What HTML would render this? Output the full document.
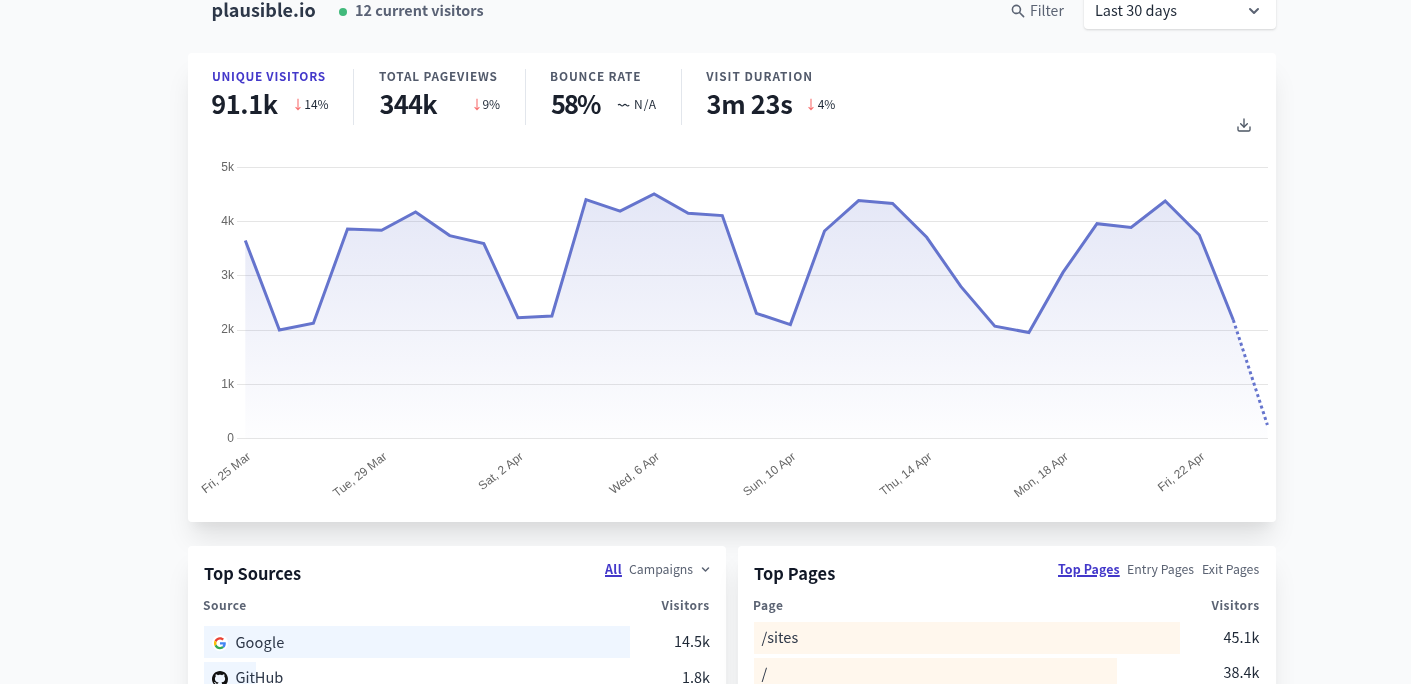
<!DOCTYPE html>
<html><head><meta charset="utf-8"><title>plausible.io · Plausible Analytics</title>
<style>
*{box-sizing:border-box;margin:0;padding:0}
html,body{width:1411px;height:684px;overflow:hidden}
body{background:#f9fafb;position:relative;font-family:"Liberation Sans","Noto Sans CJK SC",sans-serif;color:#1f2937}
.t{position:absolute;white-space:nowrap;font-family:"Noto Sans CJK SC","Liberation Sans",sans-serif}
.b{font-weight:700}
.card{position:absolute;background:#fff;border-radius:4px}
#main{left:188px;top:53px;width:1088px;height:469px;box-shadow:0 20px 25px -5px rgba(0,0,0,.1),0 10px 10px -5px rgba(0,0,0,.04)}
#src{left:188px;top:546px;width:538px;height:400px;box-shadow:0 20px 25px -5px rgba(0,0,0,.1),0 10px 10px -5px rgba(0,0,0,.04)}
#pages{left:738px;top:546px;width:538px;height:400px;box-shadow:0 20px 25px -5px rgba(0,0,0,.1),0 10px 10px -5px rgba(0,0,0,.04)}
.lbl{font-size:11.8px;line-height:11.8px;letter-spacing:.6px;font-weight:700;color:#525a6b}
.num{font-size:25.4px;line-height:25.4px;letter-spacing:-.4px;font-weight:700;color:#1a202c}
.chg{font-size:12px;line-height:12px;color:#1f2937}
.dn{color:#f87171}
.sep{position:absolute;width:1px;background:#e2e6ec;top:69px;height:56px}
.bar{position:absolute;height:32px}
.blue{background:#eff6ff}
.org{background:#fff7ed}
.item{font-size:14.6px;line-height:14.6px;color:#2d3748}
.val{font-size:14.4px;line-height:14.4px;color:#1f2937}
.hd{font-size:12px;line-height:12px;letter-spacing:.5px;font-weight:700;color:#5b6373}
.ttl{font-size:16.4px;line-height:16.4px;font-weight:700;color:#111827}
.tab{font-size:12.3px;line-height:12.3px;color:#5b6373}
.act{font-size:12.4px;line-height:12.4px;font-weight:700;color:#4338ca;text-decoration:underline;text-underline-offset:.8px;text-decoration-thickness:1.6px}
</style></head>
<body>
<!-- header -->
<div class="t b" style="left:211.6px;top:-0.2px;font-size:18px;line-height:18px;color:#2d3748">plausible.io</div>
<div style="position:absolute;left:339px;top:8px;width:8px;height:8px;border-radius:50%;background:#41b97b"></div>
<div class="t b" style="left:355px;top:2.8px;font-size:14.4px;line-height:14.4px;color:#5a6275">12 current visitors</div>
<svg style="position:absolute;left:1010.1px;top:2.8px" width="16" height="16" viewBox="0 0 20 20"><path fill="#5b6373" fill-rule="evenodd" d="M8 4a4 4 0 100 8 4 4 0 000-8zM2 8a6 6 0 1110.89 3.476l4.817 4.817a1 1 0 01-1.414 1.414l-4.816-4.816A6 6 0 012 8z" clip-rule="evenodd"/></svg>
<div class="t" style="left:1030px;top:3px;font-size:14px;line-height:14px;color:#5b6373">Filter</div>
<div class="card" style="left:1084px;top:-12px;width:192px;height:40.5px;box-shadow:0 1px 3px 0 rgba(0,0,0,.1),0 1px 2px 0 rgba(0,0,0,.06)"></div>
<div class="t" style="left:1095px;top:2.6px;font-size:14.5px;line-height:14.5px;color:#1f2937">Last 30 days</div>
<svg style="position:absolute;left:1244px;top:1px" width="20" height="20" viewBox="0 0 20 20"><path fill="#5b6373" fill-rule="evenodd" d="M5.293 7.293a1 1 0 011.414 0L10 10.586l3.293-3.293a1 1 0 111.414 1.414l-4 4a1 1 0 01-1.414 0l-4-4a1 1 0 010-1.414z" clip-rule="evenodd"/></svg>

<!-- main card -->
<div class="card" id="main"></div>
<div class="t lbl" style="left:212px;top:70.4px;color:#4338ca;letter-spacing:.71px">UNIQUE VISITORS</div>
<div class="t num" style="left:211.2px;top:91px">91.1k</div>
<svg style="position:absolute;left:294.8px;top:98px" width="6" height="13" viewBox="0 0 6 13"><path d="M3 .8V11.6M.6 9.2L3 11.6 5.4 9.2" fill="none" stroke="#f87171" stroke-width="1.1"/></svg>
<div class="t chg" style="left:304.3px;top:98px">14%</div>
<div class="sep" style="left:353px"></div>
<div class="t lbl" style="left:379px;top:70.4px;letter-spacing:.81px">TOTAL PAGEVIEWS</div>
<div class="t num" style="left:379.5px;top:91px;letter-spacing:-.7px">344k</div>
<svg style="position:absolute;left:473.7px;top:98px" width="6" height="13" viewBox="0 0 6 13"><path d="M3 .8V11.6M.6 9.2L3 11.6 5.4 9.2" fill="none" stroke="#f87171" stroke-width="1.1"/></svg>
<div class="t chg" style="left:482.4px;top:98px">9%</div>
<div class="sep" style="left:525px"></div>
<div class="t lbl" style="left:550px;top:70.4px;letter-spacing:.88px">BOUNCE RATE</div>
<div class="t num" style="left:550.9px;top:91px;letter-spacing:-1.9px">58%</div>
<svg style="position:absolute;left:617px;top:102px" width="14" height="6" viewBox="0 0 14 6"><path d="M1 3.2q1.4-1.6 2.8 0t2.8 0 2.8 0 2.8 0" fill="none" stroke="#1f2937" stroke-width="1.1"/></svg>
<div class="t chg" style="left:634px;top:97.8px;letter-spacing:1px">N/A</div>
<div class="sep" style="left:681px"></div>
<div class="t lbl" style="left:706.2px;top:70.4px;letter-spacing:.95px">VISIT DURATION</div>
<div class="t num" style="left:706.5px;top:91px;letter-spacing:-.3px">3m 23s</div>
<svg style="position:absolute;left:808.4px;top:98px" width="6" height="13" viewBox="0 0 6 13"><path d="M3 .8V11.6M.6 9.2L3 11.6 5.4 9.2" fill="none" stroke="#f87171" stroke-width="1.1"/></svg>
<div class="t chg" style="left:817.7px;top:98px">4%</div>
<svg style="position:absolute;left:1236px;top:117px" width="16" height="16" viewBox="0 0 24 24" fill="none" stroke="#4b5563" stroke-width="2" stroke-linecap="round" stroke-linejoin="round"><path d="M21 15v4a2 2 0 0 1-2 2H5a2 2 0 0 1-2-2v-4"/><polyline points="7 10 12 15 17 10"/><line x1="12" y1="15" x2="12" y2="3"/></svg>

<!-- chart -->
<svg id="chart" style="position:absolute;left:0;top:0" width="1411" height="684" viewBox="0 0 1411 684">
<defs>
<linearGradient id="gf" gradientUnits="userSpaceOnUse" x1="0" y1="156" x2="0" y2="456">
<stop offset="0" stop-color="rgb(101,116,205)" stop-opacity="0.2"/>
<stop offset="1" stop-color="rgb(101,116,205)" stop-opacity="0"/>
</linearGradient>
</defs>
<g stroke="rgba(0,0,0,0.1)" stroke-width="1" shape-rendering="crispEdges">
<line x1="237" y1="167.5" x2="1268" y2="167.5"/>
<line x1="237" y1="221.5" x2="1268" y2="221.5"/>
<line x1="237" y1="275.5" x2="1268" y2="275.5"/>
<line x1="237" y1="330.5" x2="1268" y2="330.5"/>
<line x1="237" y1="384.5" x2="1268" y2="384.5"/>
<line x1="237" y1="438.5" x2="1268" y2="438.5"/>
</g>
<g font-family="Liberation Sans, Arial, sans-serif" font-size="12" fill="#666" text-anchor="end" dominant-baseline="middle">
<text x="234" y="167.5">5k</text>
<text x="234" y="221.5">4k</text>
<text x="234" y="275.5">3k</text>
<text x="234" y="330">2k</text>
<text x="234" y="384.5">1k</text>
<text x="234" y="438.5">0</text>
</g>
<path id="area" fill="url(#gf)" d="M245.3,438.5 L245.3,240.5 L279.4,330.0 L313.4,323.3 L347.5,229.0 L381.6,230.3 L415.6,211.9 L449.7,235.6 L483.8,243.5 L517.9,317.7 L551.9,316.0 L586.0,199.7 L620.1,211.1 L654.1,194.0 L688.2,213.2 L722.3,215.6 L756.4,313.3 L790.4,324.6 L824.5,231.0 L858.6,200.6 L892.6,203.4 L926.7,237.3 L960.8,286.4 L994.8,326.2 L1028.9,332.5 L1063.0,272.4 L1097.0,223.7 L1131.1,227.5 L1165.2,201.0 L1199.3,235.0 L1233.3,320.0 L1233.3,438.5 Z"/>
<path id="area2" fill="url(#gf)" d="M1233.3,438.5 L1233.3,320.0 L1267.4,425.0 L1267.4,438.5 Z"/>
<polyline id="line" fill="none" stroke="rgb(101,116,205)" stroke-width="3" stroke-linejoin="miter" points="245.3,240.5 279.4,330.0 313.4,323.3 347.5,229.0 381.6,230.3 415.6,211.9 449.7,235.6 483.8,243.5 517.9,317.7 551.9,316.0 586.0,199.7 620.1,211.1 654.1,194.0 688.2,213.2 722.3,215.6 756.4,313.3 790.4,324.6 824.5,231.0 858.6,200.6 892.6,203.4 926.7,237.3 960.8,286.4 994.8,326.2 1028.9,332.5 1063.0,272.4 1097.0,223.7 1131.1,227.5 1165.2,201.0 1199.3,235.0 1233.3,320.0"/>
<line id="dash" stroke="rgb(101,116,205)" stroke-width="3" stroke-dasharray="3 3" x1="1233.3" y1="320.0" x2="1267.4" y2="425.0"/>
<g id="xl" font-family="Liberation Sans, Arial, sans-serif" font-size="12" fill="#666" text-anchor="end"><text transform="translate(251.3 458) rotate(-38)">Fri, 25 Mar</text><text transform="translate(387.6 458) rotate(-38)">Tue, 29 Mar</text><text transform="translate(523.9 458) rotate(-38)">Sat, 2 Apr</text><text transform="translate(660.1 458) rotate(-38)">Wed, 6 Apr</text><text transform="translate(796.4 458) rotate(-38)">Sun, 10 Apr</text><text transform="translate(932.7 458) rotate(-38)">Thu, 14 Apr</text><text transform="translate(1069.0 458) rotate(-38)">Mon, 18 Apr</text><text transform="translate(1205.3 458) rotate(-38)">Fri, 22 Apr</text></g>
</svg>

<!-- bottom cards -->
<div class="card" id="src"></div>
<div class="card" id="pages"></div>

<div class="t ttl" style="left:204px;top:564.5px">Top Sources</div>
<div class="t act" style="left:605px;top:562.9px;letter-spacing:.4px">All</div>
<div class="t tab" style="left:629px;top:562.7px">Campaigns</div>
<svg style="position:absolute;left:698px;top:562px" width="15" height="15" viewBox="0 0 20 20"><path fill="#5b6373" fill-rule="evenodd" d="M5.293 7.293a1 1 0 011.414 0L10 10.586l3.293-3.293a1 1 0 111.414 1.414l-4 4a1 1 0 01-1.414 0l-4-4a1 1 0 010-1.414z" clip-rule="evenodd"/></svg>
<div class="t hd" style="left:203px;top:598.6px">Source</div>
<div class="t hd" style="left:661.5px;top:598.6px">Visitors</div>
<div class="bar blue" style="left:204px;top:626px;width:426px"></div>
<div class="bar blue" style="left:204px;top:662px;width:52px"></div>
<svg style="position:absolute;left:212px;top:634.5px" width="16" height="16" viewBox="0 0 16 16"><circle cx="8" cy="8" r="8" fill="#fff"/><g transform="translate(1.95 2.2) scale(.252)"><path fill="#EA4335" d="M24 9.5c3.54 0 6.71 1.22 9.21 3.6l6.85-6.85C35.9 2.38 30.47 0 24 0 14.62 0 6.51 5.38 2.56 13.22l7.98 6.19C12.43 13.72 17.74 9.5 24 9.5z"/><path fill="#4285F4" d="M46.98 24.55c0-1.570-.15-3.090-.38-4.550H24v9.020h12.940c-.58 2.960-2.260 5.480-4.780 7.180l7.730 6c4.510-4.180 7.090-10.360 7.090-17.650z"/><path fill="#FBBC05" d="M10.53 28.59c-.48-1.45-.76-2.99-.76-4.59s.27-3.14.76-4.59l-7.98-6.19C.92 16.46 0 20.12 0 24c0 3.88.92 7.54 2.56 10.78l7.97-6.19z"/><path fill="#34A853" d="M24 48c6.48 0 11.93-2.130 15.890-5.810l-7.730-6c-2.150 1.450-4.920 2.300-8.160 2.300-6.260 0-11.570-4.220-13.470-9.910l-7.980 6.190C6.510 42.620 14.620 48 24 48z"/></g></svg>
<div class="t item" style="left:235.4px;top:634.8px;letter-spacing:.15px">Google</div>
<div class="t val" style="left:674px;top:633.9px">14.5k</div>
<svg style="position:absolute;left:212px;top:671px" width="16" height="16" viewBox="0 0 16 16"><path fill="#111" d="M8 0C3.58 0 0 3.58 0 8c0 3.54 2.29 6.53 5.47 7.59.4.07.55-.17.55-.38 0-.19-.01-.82-.01-1.49-2.01.37-2.53-.49-2.69-.94-.09-.23-.48-.94-.82-1.13-.28-.15-.68-.52-.01-.53.63-.01 1.08.58 1.23.82.72 1.21 1.87.87 2.33.66.07-.52.28-.87.51-1.07-1.78-.2-3.64-.89-3.64-3.95 0-.87.31-1.59.82-2.15-.08-.2-.36-1.02.08-2.12 0 0 .67-.21 2.2.82.64-.18 1.32-.27 2-.27.68 0 1.36.09 2 .27 1.53-1.04 2.2-.82 2.2-.82.44 1.1.16 1.92.08 2.12.51.56.82 1.27.82 2.15 0 3.07-1.87 3.75-3.65 3.95.29.25.54.73.54 1.48 0 1.07-.01 1.93-.01 2.2 0 .21.15.46.55.38A8.013 8.013 0 0016 8c0-4.42-3.58-8-8-8z"/></svg>
<div class="t item" style="left:235.6px;top:670.1px;letter-spacing:-.1px">GitHub</div>
<div class="t val" style="left:682px;top:669.9px">1.8k</div>

<div class="t ttl" style="left:754px;top:564.5px;letter-spacing:.1px">Top Pages</div>
<div class="t act" style="left:1058px;top:563.2px;letter-spacing:.1px">Top Pages</div>
<div class="t tab" style="left:1127px;top:562.5px">Entry Pages</div>
<div class="t tab" style="left:1202px;top:562.5px">Exit Pages</div>
<div class="t hd" style="left:753px;top:598.6px">Page</div>
<div class="t hd" style="left:1211.5px;top:598.6px">Visitors</div>
<div class="bar org" style="left:754px;top:622px;width:426px"></div>
<div class="bar org" style="left:754px;top:658px;width:363px"></div>
<div class="t item" style="left:761.5px;top:629.5px">/sites</div>
<div class="t val" style="left:1223.5px;top:629.5px">45.1k</div>
<div class="t item" style="left:761.5px;top:665.5px">/</div>
<div class="t val" style="left:1223.5px;top:665.2px">38.4k</div>
</body></html>
